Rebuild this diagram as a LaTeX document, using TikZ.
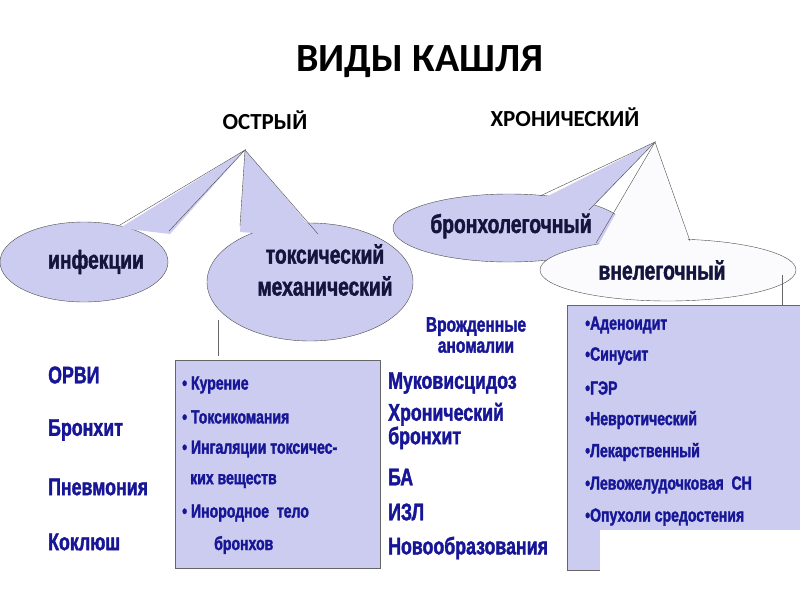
\documentclass[tikz,border=0pt]{standalone}
\usepackage{fontspec}
\setmainfont{Liberation Sans}
\newfontfamily\titlefont{Carlito}
\newfontfamily\condfont[FakeStretch=0.74,FakeBold=1.6]{Liberation Sans Bold}
\definecolor{lav}{RGB}{204,204,240}
\definecolor{navy}{RGB}{22,22,150}
\definecolor{ink}{RGB}{20,20,60}
\tikzset{
  bubble/.style={ellipse, draw=black!70, fill=lav, inner sep=0pt},
  tail/.style={fill=lav, draw=none},
  bubtext/.style={font=\condfont\fontsize{26}{26}\selectfont, text=ink, inner sep=0pt},
  item/.style={font=\condfont\fontsize{24}{26}\selectfont, text=navy, anchor=west, inner sep=0pt},
  boxitem/.style={font=\condfont\fontsize{19}{20}\selectfont, text=navy, anchor=west, inner sep=0pt},
  listbox/.style={draw=black!60, fill=lav}
}
\usetikzlibrary{shapes.geometric}
\begin{document}
\begin{tikzpicture}[x=1pt,y=-1pt]
  \useasboundingbox (0,0) rectangle (800,600);
  \fill[white] (0,0) rectangle (800,600);

  % headings
  \node[font=\titlefont\bfseries\fontsize{40}{40}\selectfont] (title) at (420,62) {ВИДЫ КАШЛЯ};
  \node[font=\titlefont\bfseries\fontsize{23}{23}\selectfont] (acute) at (265,120) {ОСТРЫЙ};
  \node[font=\titlefont\bfseries\fontsize{23}{23}\selectfont] (chronic) at (565,117) {ХРОНИЧЕСКИЙ};

  % acute bubbles
  \coordinate (tipA) at (245,150);
  \coordinate (tipC) at (655,142);
  \node[bubble, minimum width=168, minimum height=80] (inf) at (84,262) {};
  \fill[tail] (tipA) -- (120,228) -- (170,234) -- cycle;
  \draw[black!70] (120,225) -- (tipA) -- (169,231);
  \node[bubble, minimum width=206, minimum height=118] (tox) at (310,282) {};
  \fill[tail] (tipA) -- (240,232) -- (320,238) -- cycle;
  \draw[black!70] (240,226) -- (tipA) -- (318,234);

  % chronic bubbles
  \node[bubble, minimum width=232, minimum height=68] (bron) at (509,228) {};
  \fill[tail] (tipC) -- (540,200) -- (588,212) -- cycle;
  \draw[black!70] (540,196) -- (tipC) -- (589,210);
  \node[bubble, fill=white!92!lav, minimum width=256, minimum height=62] (vnel) at (668,270) {};
  \fill[white!92!lav] (tipC) -- (598,246) -- (690,246) -- cycle;
  \draw[black!70] (596,243) -- (tipC) -- (690,241);

  \node[bubtext] at (96,262) {инфекции};
  \node[bubtext, align=center] at (325,270) {токсический\\[6pt]механический};
  \node[bubtext] at (511,226) {бронхолегочный};
  \node[bubtext] at (662,270) {внелегочный};

  % thin leaders
  \draw[black!60] (218,320) -- (218,356);
  \draw[black!60] (782,275) -- (782,318);

  % boxes
  \node[listbox, minimum width=205, minimum height=208, anchor=north west, inner sep=0pt] (toxbox) at (175,360) {};
  \node[listbox, minimum width=240, minimum height=265, anchor=north west, inner sep=0pt] (extbox) at (567,305) {};
  \fill[white] (600,530) rectangle (800,572);

  % acute list
  \node[item] at (48,375) {ОРВИ};
  \node[item] at (48,430) {Бронхит};
  \node[item] at (48,487) {Пневмония};
  \node[item] at (48,542) {Коклюш};

  \node[boxitem] at (182,385) {• Курение};
  \node[boxitem] at (182,417) {• Токсикомания};
  \node[boxitem] at (182,449) {• Ингаляции токсичес-};
  \node[boxitem] at (190,481) {ких веществ};
  \node[boxitem] at (182,513) {• Инородное \ тело};
  \node[boxitem] at (214,545) {бронхов};

  % chronic bronchopulmonary
  \node[item, anchor=center, align=center, font=\condfont\fontsize{21}{21}\selectfont] at (476,335) {Врожденные\\аномалии};
  \node[item] at (388,383) {Муковисцидоз};
  \node[item, align=left, font=\condfont\fontsize{24}{21}\selectfont] at (388,426) {Хронический\\бронхит};
  \node[item] at (388,477) {БА};
  \node[item] at (388,512) {ИЗЛ};
  \node[item] at (388,548) {Новообразования};

  % extrapulmonary
  \node[boxitem] at (585,325) {•Аденоидит};
  \node[boxitem] at (585,356) {•Синусит};
  \node[boxitem] at (585,388) {•ГЭР};
  \node[boxitem] at (585,420) {•Невротический};
  \node[boxitem] at (585,452) {•Лекарственный};
  \node[boxitem] at (585,485) {•Левожелудочковая \ СН};
  \node[boxitem] at (585,517) {•Опухоли средостения};
\end{tikzpicture}
\end{document}
